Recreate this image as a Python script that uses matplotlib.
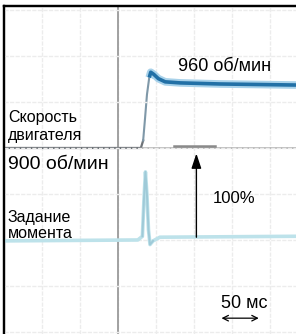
import numpy as np
import matplotlib
matplotlib.use('agg')
import matplotlib.pyplot as plt

plt.rcParams['font.family'] = ['Liberation Sans', 'DejaVu Sans']

# speed trace, time in ms, speed in rpm
speed_t = [0, 180, 183, 185.5, 188, 191, 193, 197, 203, 212, 232, 284, 384]
speed_rpm = [900, 900, 907, 928, 950, 966, 971, 969, 965, 962, 961, 960, 959]
step_idx = 2

# torque reference, time in ms, torque in %
torque_t = [0, 176, 182, 184, 186, 188, 190, 192, 196, 205, 384]
torque_pct = [-1, 0, 4, 43, 74, 49, 11, -5, -1, 3, 4]

W, H = 296, 334
fig = plt.figure(figsize=(W / 100, H / 100), dpi=100)
ax = fig.add_axes([4 / W, 0, 292 / W, 328 / H])
axT = ax.twinx()

# scales
ax.set_xlim(0, 384)
ax.set_ylim(725.6, 1033.1)
axT.set_ylim(-102.2, 254.3)

ax.set_xticks(np.arange(50, 384, 50))
ax.set_yticks([])
axT.set_yticks(np.arange(-100, 255, 50))
ax.tick_params(length=0, labelbottom=False)
axT.tick_params(length=0, labelright=False)
ax.grid(axis='x', color='#ececec', lw=1.0, ls=(0, (3, 1)))
axT.grid(axis='y', color='#ececec', lw=1.0, ls=(0, (3, 1)))

for a in (ax, axT):
    a.spines['right'].set_visible(False)
    a.spines['bottom'].set_visible(False)
    a.spines['top'].set_linewidth(1.6)
    a.spines['left'].set_linewidth(1.6)

ax.axvline(150, color='#9a9a9a', lw=1.3)
ax.axhline(900, color='#b0b0b0', lw=1.2)

# torque trace
axT.plot(torque_t, torque_pct, color='#bde2ea', lw=2.6, solid_joinstyle='round')
axT.plot(torque_t[2:9], torque_pct[2:9], color='#9fcad8', lw=1.4)

# speed trace
ax.plot(speed_t[:step_idx + 1], speed_rpm[:step_idx + 1], color='#6e7378', lw=1.6)
ax.plot(speed_t[step_idx:6], speed_rpm[step_idx:6], color='#7f98a8', lw=1.5)
ax.plot(speed_t[5:], speed_rpm[5:], color='#a9d2ea', lw=5.5, solid_capstyle='butt')
ax.plot(speed_t[5:], speed_rpm[5:], color='#2270a6', lw=2.6, solid_capstyle='butt')

# 100% arrow
axT.plot([223, 277], [102, 102], color='#8a8a8a', lw=1.8)
axT.annotate('', xy=(253, 94), xytext=(253, 3),
             arrowprops=dict(arrowstyle='-|>,head_length=0.9,head_width=0.3',
                             color='black', lw=1.0, shrinkA=0, shrinkB=0))

# 50 ms marker
axT.annotate('', xy=(335, -85), xytext=(286, -85),
             arrowprops=dict(arrowstyle='<->,head_length=0.4,head_width=0.2',
                             color='black', lw=0.9, shrinkA=0, shrinkB=0))


def label(x, y, s, size):
    fig.text(x / W, 1 - y / H, s, fontsize=size, va='baseline', ha='left')


label(178, 71, '960 об/мин', 13)
label(8, 122, 'Скорость', 11.5)
label(8, 140, 'двигателя', 11.5)
label(8, 169, '900 об/мин', 14)
label(8, 222, 'Задание', 11.5)
label(8, 238, 'момента', 11.5)
label(213, 203, '100%', 12)
label(221, 308, '50 мс', 13)

fig.savefig('out.png', dpi=100)
